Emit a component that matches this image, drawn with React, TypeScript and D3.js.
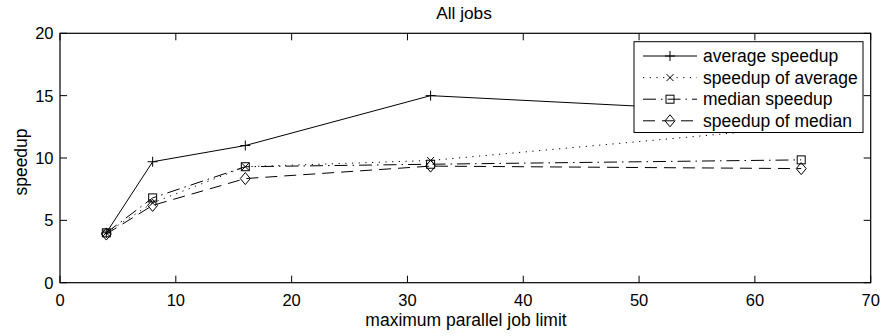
import React from "react";
import * as d3 from "d3";

const jobLimits = [4, 8, 16, 32, 64];
const averageSpeedup = [4.0, 9.7, 11.0, 15.0, 13.5];
const speedupOfAverage = [4.0, 6.4, 9.3, 9.8, 12.5];
const medianSpeedup = [4.0, 6.8, 9.3, 9.5, 9.85];
const speedupOfMedian = [3.9, 6.2, 8.35, 9.35, 9.15];
const seriesNames = ["average speedup", "speedup of average", "median speedup", "speedup of median"];
const xTicks = [0, 10, 20, 30, 40, 50, 60, 70];
const yTicks = [0, 5, 10, 15, 20];

const W = 882;
const H = 336;
const L = 60, R = 870.7, T = 33.3, B = 282.7;
const FONT = "'Liberation Sans', Arial, Helvetica, sans-serif";

type MarkerKind = "plus" | "x" | "square" | "diamond";

function Marker({ kind, x, y }: { kind: MarkerKind; x: number; y: number }) {
  const s = { stroke: "#000", strokeWidth: 1, fill: "none" } as const;
  if (kind === "plus") {
    return <path d={`M${x - 5},${y}H${x + 5}M${x},${y - 5}V${y + 5}`} {...s} />;
  }
  if (kind === "x") {
    return <path d={`M${x - 3.5},${y - 3.5}L${x + 3.5},${y + 3.5}M${x - 3.5},${y + 3.5}L${x + 3.5},${y - 3.5}`} {...s} />;
  }
  if (kind === "square") {
    return <rect x={x - 4} y={y - 4} width={8} height={8} {...s} />;
  }
  return <path d={`M${x},${y - 6}L${x + 5},${y}L${x},${y + 6}L${x - 5},${y}Z`} {...s} />;
}

export default function App() {
  const x = d3.scaleLinear().domain([0, 70]).range([L, R]);
  const y = d3.scaleLinear().domain([0, 20]).range([B, T]);

  const series: { name: string; values: number[]; dash: string | undefined; marker: MarkerKind }[] = [
    { name: seriesNames[0], values: averageSpeedup, dash: undefined, marker: "plus" },
    { name: seriesNames[1], values: speedupOfAverage, dash: "1.2,5.5", marker: "x" },
    { name: seriesNames[2], values: medianSpeedup, dash: "13,5,1.5,5", marker: "square" },
    { name: seriesNames[3], values: speedupOfMedian, dash: "12,7", marker: "diamond" },
  ];

  const line = d3
    .line<[number, number]>()
    .x((d) => x(d[0]))
    .y((d) => y(d[1]));

  const legX0 = 634, legY0 = 41.7, legX1 = 863, legY1 = 132.5;
  const rowY = (i: number) => 56 + i * 21.6;

  return (
    <svg
      width={W}
      height={H}
      style={{ position: "absolute", left: 0, top: 0, background: "#fff" }}
      fontFamily={FONT}
    >
      <rect x={0} y={0} width={W} height={H} fill="#fff" />
      {/* series */}
      {series.map((s) => (
        <g key={s.name}>
          <path
            d={line(jobLimits.map((j, i) => [j, s.values[i]] as [number, number])) || ""}
            fill="none"
            stroke="#000"
            strokeWidth={1}
            strokeDasharray={s.dash}
          />
          {jobLimits.map((j, i) => (
            <Marker key={i} kind={s.marker} x={x(j)} y={y(s.values[i])} />
          ))}
        </g>
      ))}
      {/* axes box */}
      <rect x={L} y={T} width={R - L} height={B - T} fill="none" stroke="#000" strokeWidth={1.2} />
      {xTicks.map((t) => (
        <g key={"x" + t}>
          <line x1={x(t)} x2={x(t)} y1={B} y2={B - 7} stroke="#000" strokeWidth={1} />
          <line x1={x(t)} x2={x(t)} y1={T} y2={T + 7} stroke="#000" strokeWidth={1} />
          <text x={x(t)} y={306} textAnchor="middle" fontSize={16.5}>
            {t}
          </text>
        </g>
      ))}
      {yTicks.map((t) => (
        <g key={"y" + t}>
          <line x1={L} x2={L + 7} y1={y(t)} y2={y(t)} stroke="#000" strokeWidth={1} />
          <line x1={R} x2={R - 7} y1={y(t)} y2={y(t)} stroke="#000" strokeWidth={1} />
          <text x={53.5} y={y(t) + 6} textAnchor="end" fontSize={16.5}>
            {t}
          </text>
        </g>
      ))}
      {/* titles */}
      <text x={464} y={19} textAnchor="middle" fontSize={17.3}>
        All jobs
      </text>
      <text x={466} y={326} textAnchor="middle" fontSize={17.5}>
        maximum parallel job limit
      </text>
      <text
        transform={`translate(26.5,162) rotate(-90)`}
        textAnchor="middle"
        fontSize={17.5}
      >
        speedup
      </text>
      {/* legend */}
      <rect x={legX0} y={legY0} width={legX1 - legX0} height={legY1 - legY0} fill="#fff" stroke="#000" strokeWidth={1} />
      {series.map((s, i) => (
        <g key={"leg" + i}>
          <line
            x1={643}
            x2={697}
            y1={rowY(i)}
            y2={rowY(i)}
            stroke="#000"
            strokeWidth={1}
            strokeDasharray={s.dash}
          />
          <Marker kind={s.marker} x={670} y={rowY(i)} />
          <text x={703} y={rowY(i) + 6} fontSize={17.5}>
            {s.name}
          </text>
        </g>
      ))}
    </svg>
  );
}
